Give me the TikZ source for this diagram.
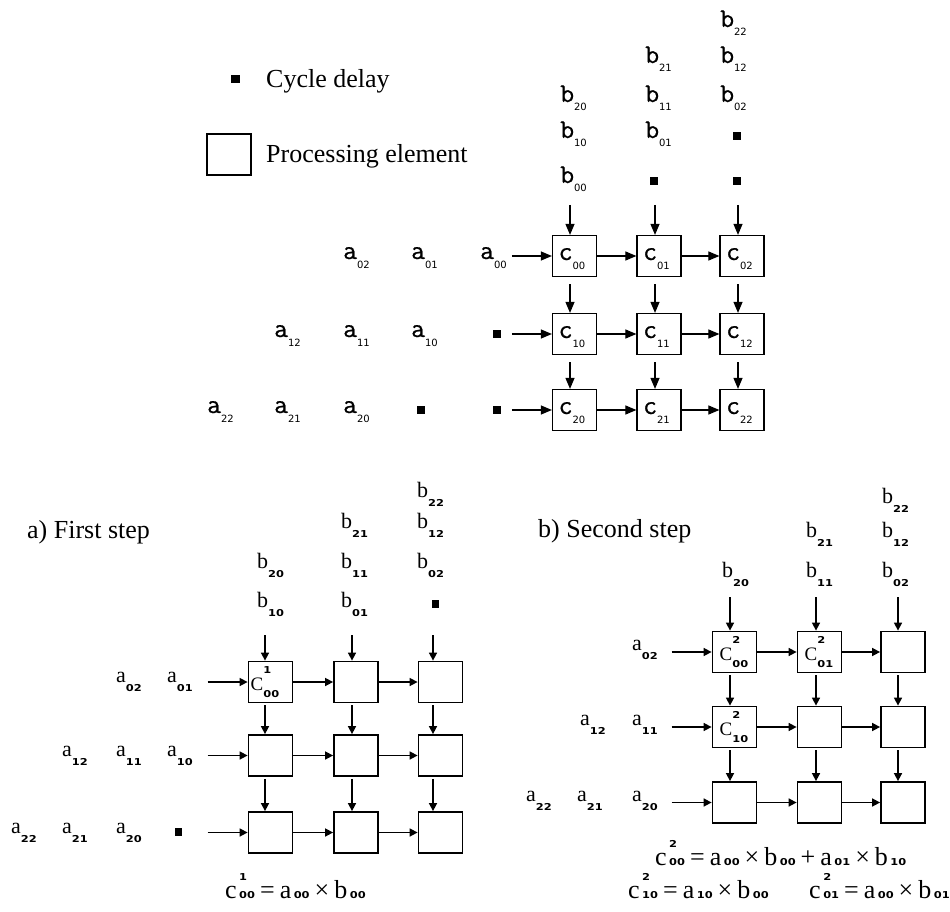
\documentclass[tikz,border=0pt]{standalone}
\usepackage{fontspec}
\usepackage{graphicx}
\usetikzlibrary{arrows.meta,calc}
\setmainfont{Liberation Serif}
\newfontfamily\dvs{DejaVu Sans}
\newfontfamily\tmb{Latin Modern Mono}[FakeBold=0.7]
\newcommand\ttlab[2]{{\fontsize{27}{27}\selectfont\tmb #1}\raisebox{-9pt}{\fontsize{10}{10}\selectfont\dvs #2}}
\newcommand\bsub[1]{\scalebox{1.2}[1]{\fontsize{9.5}{9.5}\selectfont\dvs\bfseries #1}}
\newcommand\bblab[2]{{\fontsize{22}{22}\selectfont #1}\raisebox{-9.5pt}{\bsub{#2}}}
\newcommand\bclab[2]{{\fontsize{19}{19}\selectfont C}\rlap{\raisebox{17pt}{\bsub{#1}}}\raisebox{-7pt}{\bsub{#2}}}
\newcommand\frmsz{\fontsize{26}{26}\selectfont}
\newcommand\frmterm[2]{{\frmsz #1}\kern2.5pt\bsub{#2}}
\newcommand\frmc[2]{{\frmsz c}\kern2.5pt\rlap{\raisebox{18pt}{\bsub{#1}}}\bsub{#2}}
\newcommand\frmop[1]{\kern5pt{\frmsz #1}\kern5pt}
\begin{document}
\begin{tikzpicture}[x=1pt,y=-1pt,
  tbox/.style={draw,line width=1.2pt,minimum width=44pt,minimum height=41pt,inner sep=0pt},
  bbox/.style={draw,line width=1.8pt,minimum width=44pt,minimum height=41pt,inner sep=0pt},
  tarr/.style={line width=1.1pt,-{Triangle[length=11pt,width=9pt]}},
  barr/.style={line width=1.6pt,-{Triangle[length=8pt,width=8pt]}},
  tdel/.style={fill=black,minimum size=8.5pt,inner sep=0pt},
  bdel/.style={fill=black,minimum width=7pt,minimum height=8pt,inner sep=0pt},
  lab/.style={anchor=base west,inner sep=0pt},
  big/.style={lab,font=\fontsize{26}{26}\selectfont}]
\useasboundingbox (0,0) rectangle (950,912);

% ---------- legend ----------
\node[tdel] (legdel) at (235.5,79) {};
\node[big] (legdeltxt) at (266,88) {Cycle delay};
\node[tbox] (legpe) at (229,154.5) {};
\node[big] (legpetxt) at (266,163) {Processing element};

% ---------- top array ----------
\foreach \r/\yy in {0/256,1/334,2/410}{
  \foreach \c/\xx in {0/574.5,1/659,2/742}{
    \node[tbox] (t\r\c) at (\xx,\yy) {};
    \node[lab] (tl\r\c) at ([xshift=-16pt,yshift=-4pt]t\r\c.center) {\ttlab{c}{\r\c}};
  }}
\node[lab] (tb20) at (560,102) {\ttlab{b}{20}};
\node[lab] (tb10) at (560,138) {\ttlab{b}{10}};
\node[lab] (tb00) at (560,183) {\ttlab{b}{00}};
\node[lab] (tb21) at (645,63) {\ttlab{b}{21}};
\node[lab] (tb11) at (645,102) {\ttlab{b}{11}};
\node[lab] (tb01) at (645,138) {\ttlab{b}{01}};
\node[tdel] (td01) at (654,181) {};
\node[lab] (tb22) at (720,27) {\ttlab{b}{22}};
\node[lab] (tb12) at (720,63) {\ttlab{b}{12}};
\node[lab] (tb02) at (720,102) {\ttlab{b}{02}};
\node[tdel] (td02a) at (737,136) {};
\node[tdel] (td02b) at (737,181) {};

\node[lab] (ta02) at (343,259) {\ttlab{a}{02}};
\node[lab] (ta01) at (411,259) {\ttlab{a}{01}};
\node[lab] (ta00) at (480,259) {\ttlab{a}{00}};
\node[lab] (ta12) at (274,337) {\ttlab{a}{12}};
\node[lab] (ta11) at (343,337) {\ttlab{a}{11}};
\node[lab] (ta10) at (411,337) {\ttlab{a}{10}};
\node[tdel] (td10) at (497,334) {};
\node[lab] (ta22) at (207,413) {\ttlab{a}{22}};
\node[lab] (ta21) at (274,413) {\ttlab{a}{21}};
\node[lab] (ta20) at (343,413) {\ttlab{a}{20}};
\node[tdel] (td20a) at (421,410) {};
\node[tdel] (td20b) at (497,410) {};

\coordinate (tv0) at (570,205);
\coordinate (tv1) at (655,205);
\coordinate (tv2) at (738,205);
\foreach \c in {0,1,2}{
  \draw[tarr] (tv\c) -- (tv\c |- t0\c.north);
  \draw[tarr] ($(t0\c.south -| tv\c)+(0,7)$) -- (t1\c.north -| tv\c);
  \draw[tarr] ($(t1\c.south -| tv\c)+(0,7)$) -- (t2\c.north -| tv\c);
}
\foreach \r in {0,1,2}{
  \coordinate (th\r) at ($(t\r0.west)+(-40,0)$);
  \draw[tarr] (th\r) -- (t\r0.west);
  \draw[tarr] (t\r0.east) -- (t\r1.west);
  \draw[tarr] (t\r1.east) -- (t\r2.west);
}

% ---------- a) first step ----------
\node[big] (titlea) at (27,538) {a) First step};
\foreach \r/\yy in {0/682,1/755.5,2/832.5}{
  \foreach \c/\xx in {0/270.5,1/356,2/440.5}{
    \node[bbox] (f\r\c) at (\xx,\yy) {};
  }}
\node[lab] (fl00) at ([xshift=-20pt,yshift=-8pt]f00.center) {\bclab{1}{00}};
\node[lab] (fb20) at (257,568) {\bblab{b}{20}};
\node[lab] (fb10) at (257,607) {\bblab{b}{10}};
\node[lab] (fb21) at (341,528) {\bblab{b}{21}};
\node[lab] (fb11) at (341,568) {\bblab{b}{11}};
\node[lab] (fb01) at (341,607) {\bblab{b}{01}};
\node[lab] (fb22) at (417,497) {\bblab{b}{22}};
\node[lab] (fb12) at (417,528) {\bblab{b}{12}};
\node[lab] (fb02) at (417,568) {\bblab{b}{02}};
\node[bdel] (fd02) at (435,604) {};
\node[lab] (fa02) at (116,682) {\bblab{a}{02}};
\node[lab] (fa01) at (167,682) {\bblab{a}{01}};
\node[lab] (fa12) at (62,756) {\bblab{a}{12}};
\node[lab] (fa11) at (116,756) {\bblab{a}{11}};
\node[lab] (fa10) at (167,756) {\bblab{a}{10}};
\node[lab] (fa22) at (11,833) {\bblab{a}{22}};
\node[lab] (fa21) at (62,833) {\bblab{a}{21}};
\node[lab] (fa20) at (116,833) {\bblab{a}{20}};
\node[bdel] (fd20) at (178.5,832) {};
\coordinate (fv0) at (265,635);
\coordinate (fv1) at (352,635);
\coordinate (fv2) at (433,635);
\foreach \c in {0,1,2}{
  \draw[barr] (fv\c) -- (fv\c |- f0\c.north);
  \draw[barr] ($(f0\c.south -| fv\c)+(0,2)$) -- (f1\c.north -| fv\c);
  \draw[barr] ($(f1\c.south -| fv\c)+(0,2)$) -- (f2\c.north -| fv\c);
}
\foreach \r in {0,1,2}{
  \coordinate (fh\r) at ($(f\r0.west)+(-40,0)$);
  \draw[barr] (fh\r) -- (f\r0.west);
  \draw[barr] (f\r0.east) -- (f\r1.west);
  \draw[barr] (f\r1.east) -- (f\r2.west);
}
\node[lab] (forma) at (225,898) {\frmc{1}{00}\frmop{=}\frmterm{a}{00}\frmop{×}\frmterm{b}{00}};

% ---------- b) second step ----------
\node[big] (titleb) at (538,537) {b) Second step};
\foreach \r/\yy in {0/652,1/727,2/802.5}{
  \foreach \c/\xx in {0/734.5,1/819.5,2/903}{
    \node[bbox] (s\r\c) at (\xx,\yy) {};
  }}
\node[lab] (sl00) at ([xshift=-15pt,yshift=-8pt]s00.center) {\bclab{2}{00}};
\node[lab] (sl01) at ([xshift=-15pt,yshift=-8pt]s01.center) {\bclab{2}{01}};
\node[lab] (sl10) at ([xshift=-15pt,yshift=-8pt]s10.center) {\bclab{2}{10}};
\node[lab] (sb20) at (722,577) {\bblab{b}{20}};
\node[lab] (sb21) at (806,537) {\bblab{b}{21}};
\node[lab] (sb11) at (806,577) {\bblab{b}{11}};
\node[lab] (sb22) at (882,503) {\bblab{b}{22}};
\node[lab] (sb12) at (882,537) {\bblab{b}{12}};
\node[lab] (sb02) at (882,577) {\bblab{b}{02}};
\node[lab] (sa02) at (632,650) {\bblab{a}{02}};
\node[lab] (sa12) at (580,725) {\bblab{a}{12}};
\node[lab] (sa11) at (632,725) {\bblab{a}{11}};
\node[lab] (sa22) at (526,801) {\bblab{a}{22}};
\node[lab] (sa21) at (577,801) {\bblab{a}{21}};
\node[lab] (sa20) at (632,801) {\bblab{a}{20}};
\coordinate (sv0) at (730,597);
\coordinate (sv1) at (816,597);
\coordinate (sv2) at (898,597);
\foreach \c in {0,1,2}{
  \draw[barr] (sv\c) -- (sv\c |- s0\c.north);
  \draw[barr] ($(s0\c.south -| sv\c)+(0,2)$) -- (s1\c.north -| sv\c);
  \draw[barr] ($(s1\c.south -| sv\c)+(0,2)$) -- (s2\c.north -| sv\c);
}
\foreach \r in {0,1,2}{
  \coordinate (sh\r) at ($(s\r0.west)+(-40,0)$);
  \draw[barr] (sh\r) -- (s\r0.west);
  \draw[barr] (s\r0.east) -- (s\r1.west);
  \draw[barr] (s\r1.east) -- (s\r2.west);
}
\node[lab] (formb1) at (655,865) {\frmc{2}{00}\frmop{=}\frmterm{a}{00}\frmop{×}\frmterm{b}{00}\frmop{+}\frmterm{a}{01}\frmop{×}\frmterm{b}{10}};
\node[lab] (formb2) at (628,898) {\frmc{2}{10}\frmop{=}\frmterm{a}{10}\frmop{×}\frmterm{b}{00}};
\node[lab] (formb3) at (809,898) {\frmc{2}{01}\frmop{=}\frmterm{a}{00}\frmop{×}\frmterm{b}{01}};
\end{tikzpicture}
\end{document}
